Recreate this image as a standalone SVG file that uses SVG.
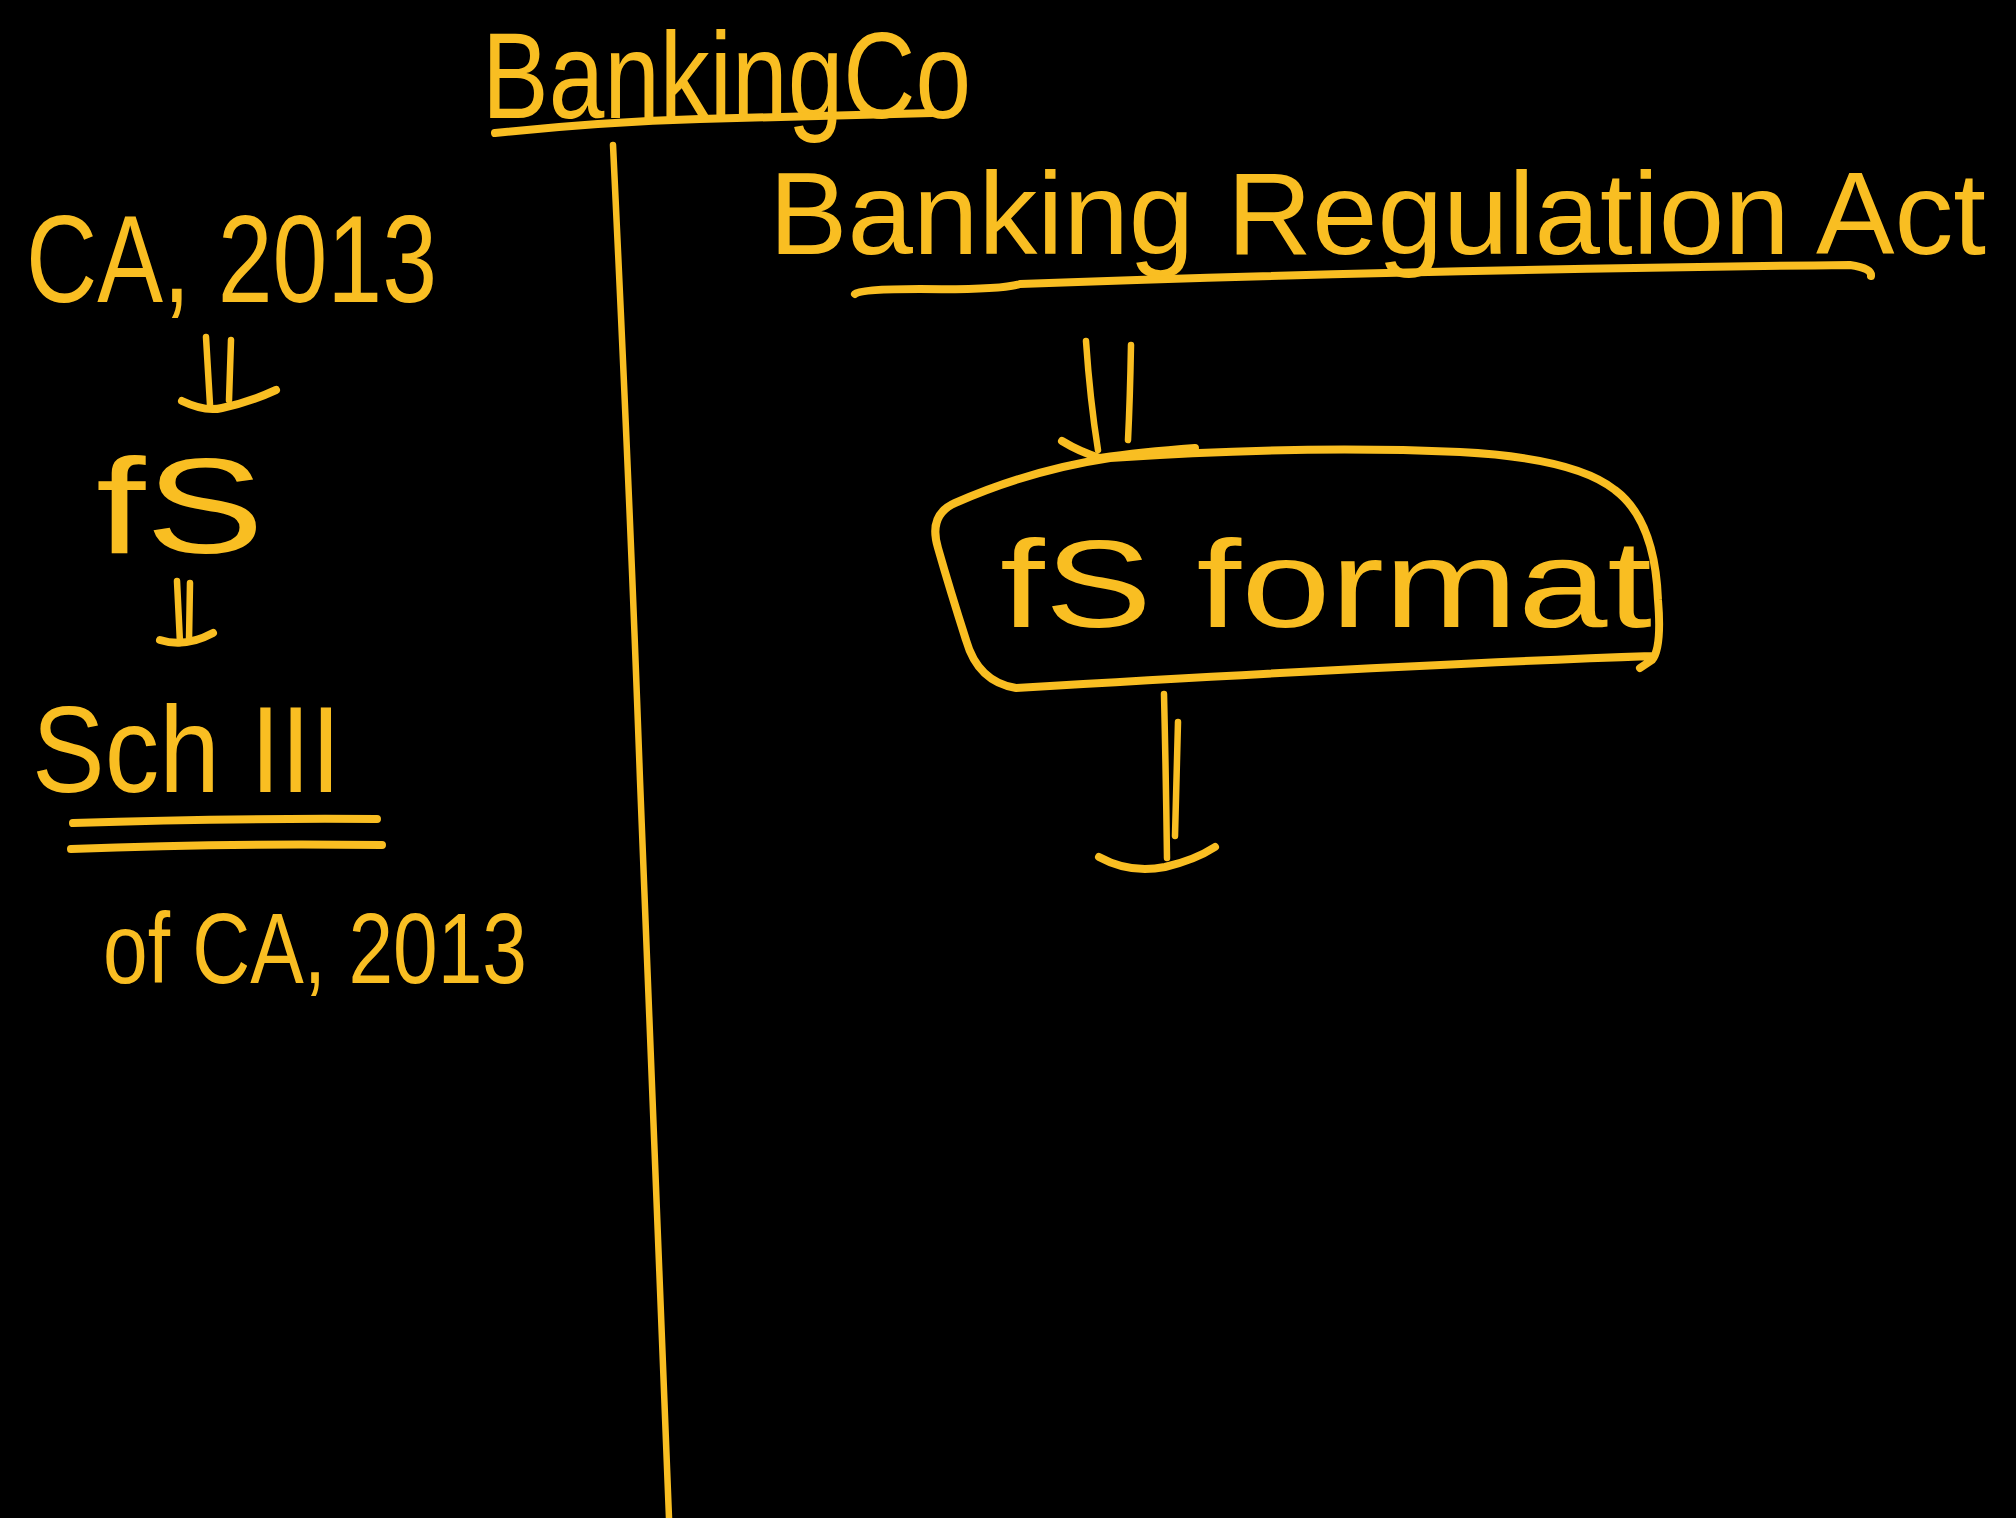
<svg xmlns="http://www.w3.org/2000/svg" width="2016" height="1518" viewBox="0 0 2016 1518">
  <style>
    .ink { fill: none; stroke: #F9BE22; stroke-width: 8; stroke-linecap: round; stroke-linejoin: round; }
    .thin { stroke-width: 6.5; }
    .hand { fill: #F9BE22; font-family: "Liberation Sans", "DejaVu Sans", sans-serif; }
  </style>
  <rect width="2016" height="1518" fill="#000"/>

  <!-- headings -->
  <g id="banking-co">
    <text class="hand" x="482" y="118" font-size="122" textLength="489" lengthAdjust="spacingAndGlyphs">BankingCo</text>
    <path class="ink" d="M495 133 Q600 122 700 119 T932 113"/>
  </g>
  <g id="br-act">
    <text class="hand" x="769" y="254" font-size="116" textLength="1217" lengthAdjust="spacingAndGlyphs">Banking Regulation Act</text>
    <path class="ink" d="M855 294 Q860 289 920 289 Q1000 290 1020 284 Q1400 270 1850 265 Q1872 268 1871 276"/>
  </g>

  <!-- left column: CA, 2013 -->
  <g id="ca-2013">
    <text class="hand" x="26" y="302" font-size="125" textLength="411" lengthAdjust="spacingAndGlyphs">CA, 2013</text>
  </g>
  <g id="fs-left">
    <text class="hand" x="96" y="553" font-size="135" textLength="168" lengthAdjust="spacingAndGlyphs">fS</text>
  </g>
  <g id="sch-iii">
    <text class="hand" x="32" y="792" font-size="122" textLength="309" lengthAdjust="spacingAndGlyphs">Sch III</text>
    <path class="ink" d="M73 823 Q220 818 377 819"/>
    <path class="ink" d="M71 849 Q220 843 382 845"/>
  </g>
  <g id="of-ca-2013">
    <text class="hand" x="103" y="983" font-size="100" textLength="424" lengthAdjust="spacingAndGlyphs">of CA, 2013</text>
  </g>

  <!-- right column: box -->
  <g id="fs-format">
    <path class="ink" d="M1016 688 Q978 682 966 640 Q950 590 938 548 Q928 515 955 503 Q1030 470 1110 458 Q1300 445 1460 452 Q1575 458 1615 490 Q1655 520 1658 600 Q1662 648 1652 660 Q1640 668 1640 668 M1652 656 Q1400 665 1016 688"/>
    <text class="hand" x="1000" y="627" font-size="125" textLength="652" lengthAdjust="spacingAndGlyphs">fS format</text>
  </g>

  <!-- connectors -->
  <g id="connectors">
    <!-- divider -->
    <path class="ink thin" d="M613 145 Q630 500 640 780 Q655 1150 669 1518"/>
    <!-- CA, 2013 to fS -->
    <path class="ink thin" d="M206 337 L210 405 M231 340 L229 400"/>
    <path class="ink" d="M182 401 Q205 412 222 408 Q250 402 276 390"/>
    <!-- fS to Sch III -->
    <path class="ink thin" d="M177 581 L180 643 M190 583 L189 640"/>
    <path class="ink" d="M160 640 Q185 648 213 633"/>
    <!-- Act to box -->
    <path class="ink thin" d="M1086 341 Q1090 400 1098 450 M1131 345 Q1130 400 1128 440"/>
    <path class="ink" d="M1062 441 Q1080 452 1100 458 Q1140 452 1195 448"/>
    <!-- box downward -->
    <path class="ink thin" d="M1164 694 Q1166 780 1167 858 M1178 722 L1175 836"/>
    <path class="ink" d="M1099 857 Q1130 874 1165 867 Q1195 860 1215 847"/>
  </g>
</svg>
